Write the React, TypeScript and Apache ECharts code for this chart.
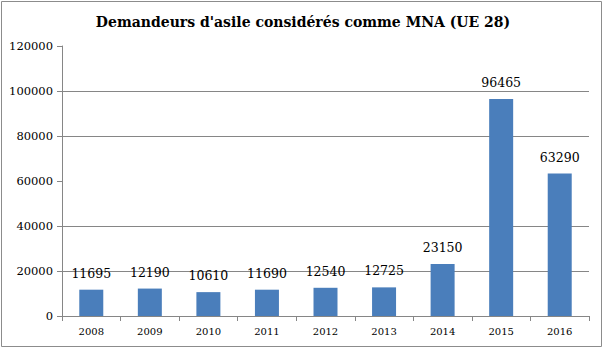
import React, { useEffect, useRef } from "react";
import * as echarts from "echarts";

const categories = ["2008", "2009", "2010", "2011", "2012", "2013", "2014", "2015", "2016"];
const values = [11695, 12190, 10610, 11690, 12540, 12725, 23150, 96465, 63290];
const titleText = "Demandeurs d'asile considérés comme MNA (UE 28)";

export default function App() {
  const ref = useRef<HTMLDivElement>(null);
  useEffect(() => {
    if (!ref.current) return;
    const chart = echarts.init(ref.current, null, { renderer: "svg" });
    const font = "DejaVu Serif";
    chart.setOption({
      animation: false,
      backgroundColor: "#ffffff",
      title: {
        text: titleText,
        left: "center",
        top: 10,
        textStyle: { fontFamily: font, fontSize: 14, fontWeight: "bold", color: "#000" },
      },
      graphic: [
        {
          type: "rect",
          shape: { x: 1.5, y: 1.5, width: 600, height: 345 },
          style: { fill: "none", stroke: "#8c8c8c", lineWidth: 1 },
          silent: true,
        },
      ],
      grid: { left: 62, right: 17, top: 46, bottom: 36 },
      xAxis: {
        type: "category",
        data: categories,
        axisLine: { lineStyle: { color: "#868686" } },
        axisTick: { show: true, length: 5, lineStyle: { color: "#868686" } },
        axisLabel: { fontFamily: font, fontSize: 10, color: "#000", margin: 10 },
      },
      yAxis: {
        type: "value",
        min: 0,
        max: 120000,
        interval: 20000,
        axisLine: { show: true, lineStyle: { color: "#868686" } },
        axisTick: { show: true, length: 5, lineStyle: { color: "#868686" } },
        axisLabel: {
          fontFamily: font,
          fontSize: 11.5,
          color: "#000",
          margin: 9,
          formatter: (v: number) => String(v),
        },
        splitLine: {
          show: true,
          lineStyle: {
            color: ["#868686", "#868686", "#868686", "rgba(0,0,0,0)", "#868686", "#868686", "rgba(0,0,0,0)"],
            width: 1,
          },
        },
      },
      series: [
        {
          type: "bar",
          data: values,
          barWidth: 24,
          itemStyle: { color: "#4a7ebb" },
          label: {
            show: true,
            position: "top",
            distance: 10,
            fontFamily: font,
            fontSize: 12.5,
            color: "#000",
          },
        },
      ],
    });
    return () => chart.dispose();
  }, []);
  return (
    <div
      ref={ref}
      style={{ position: "absolute", left: 0, top: 0, width: 606, height: 352 }}
    />
  );
}
